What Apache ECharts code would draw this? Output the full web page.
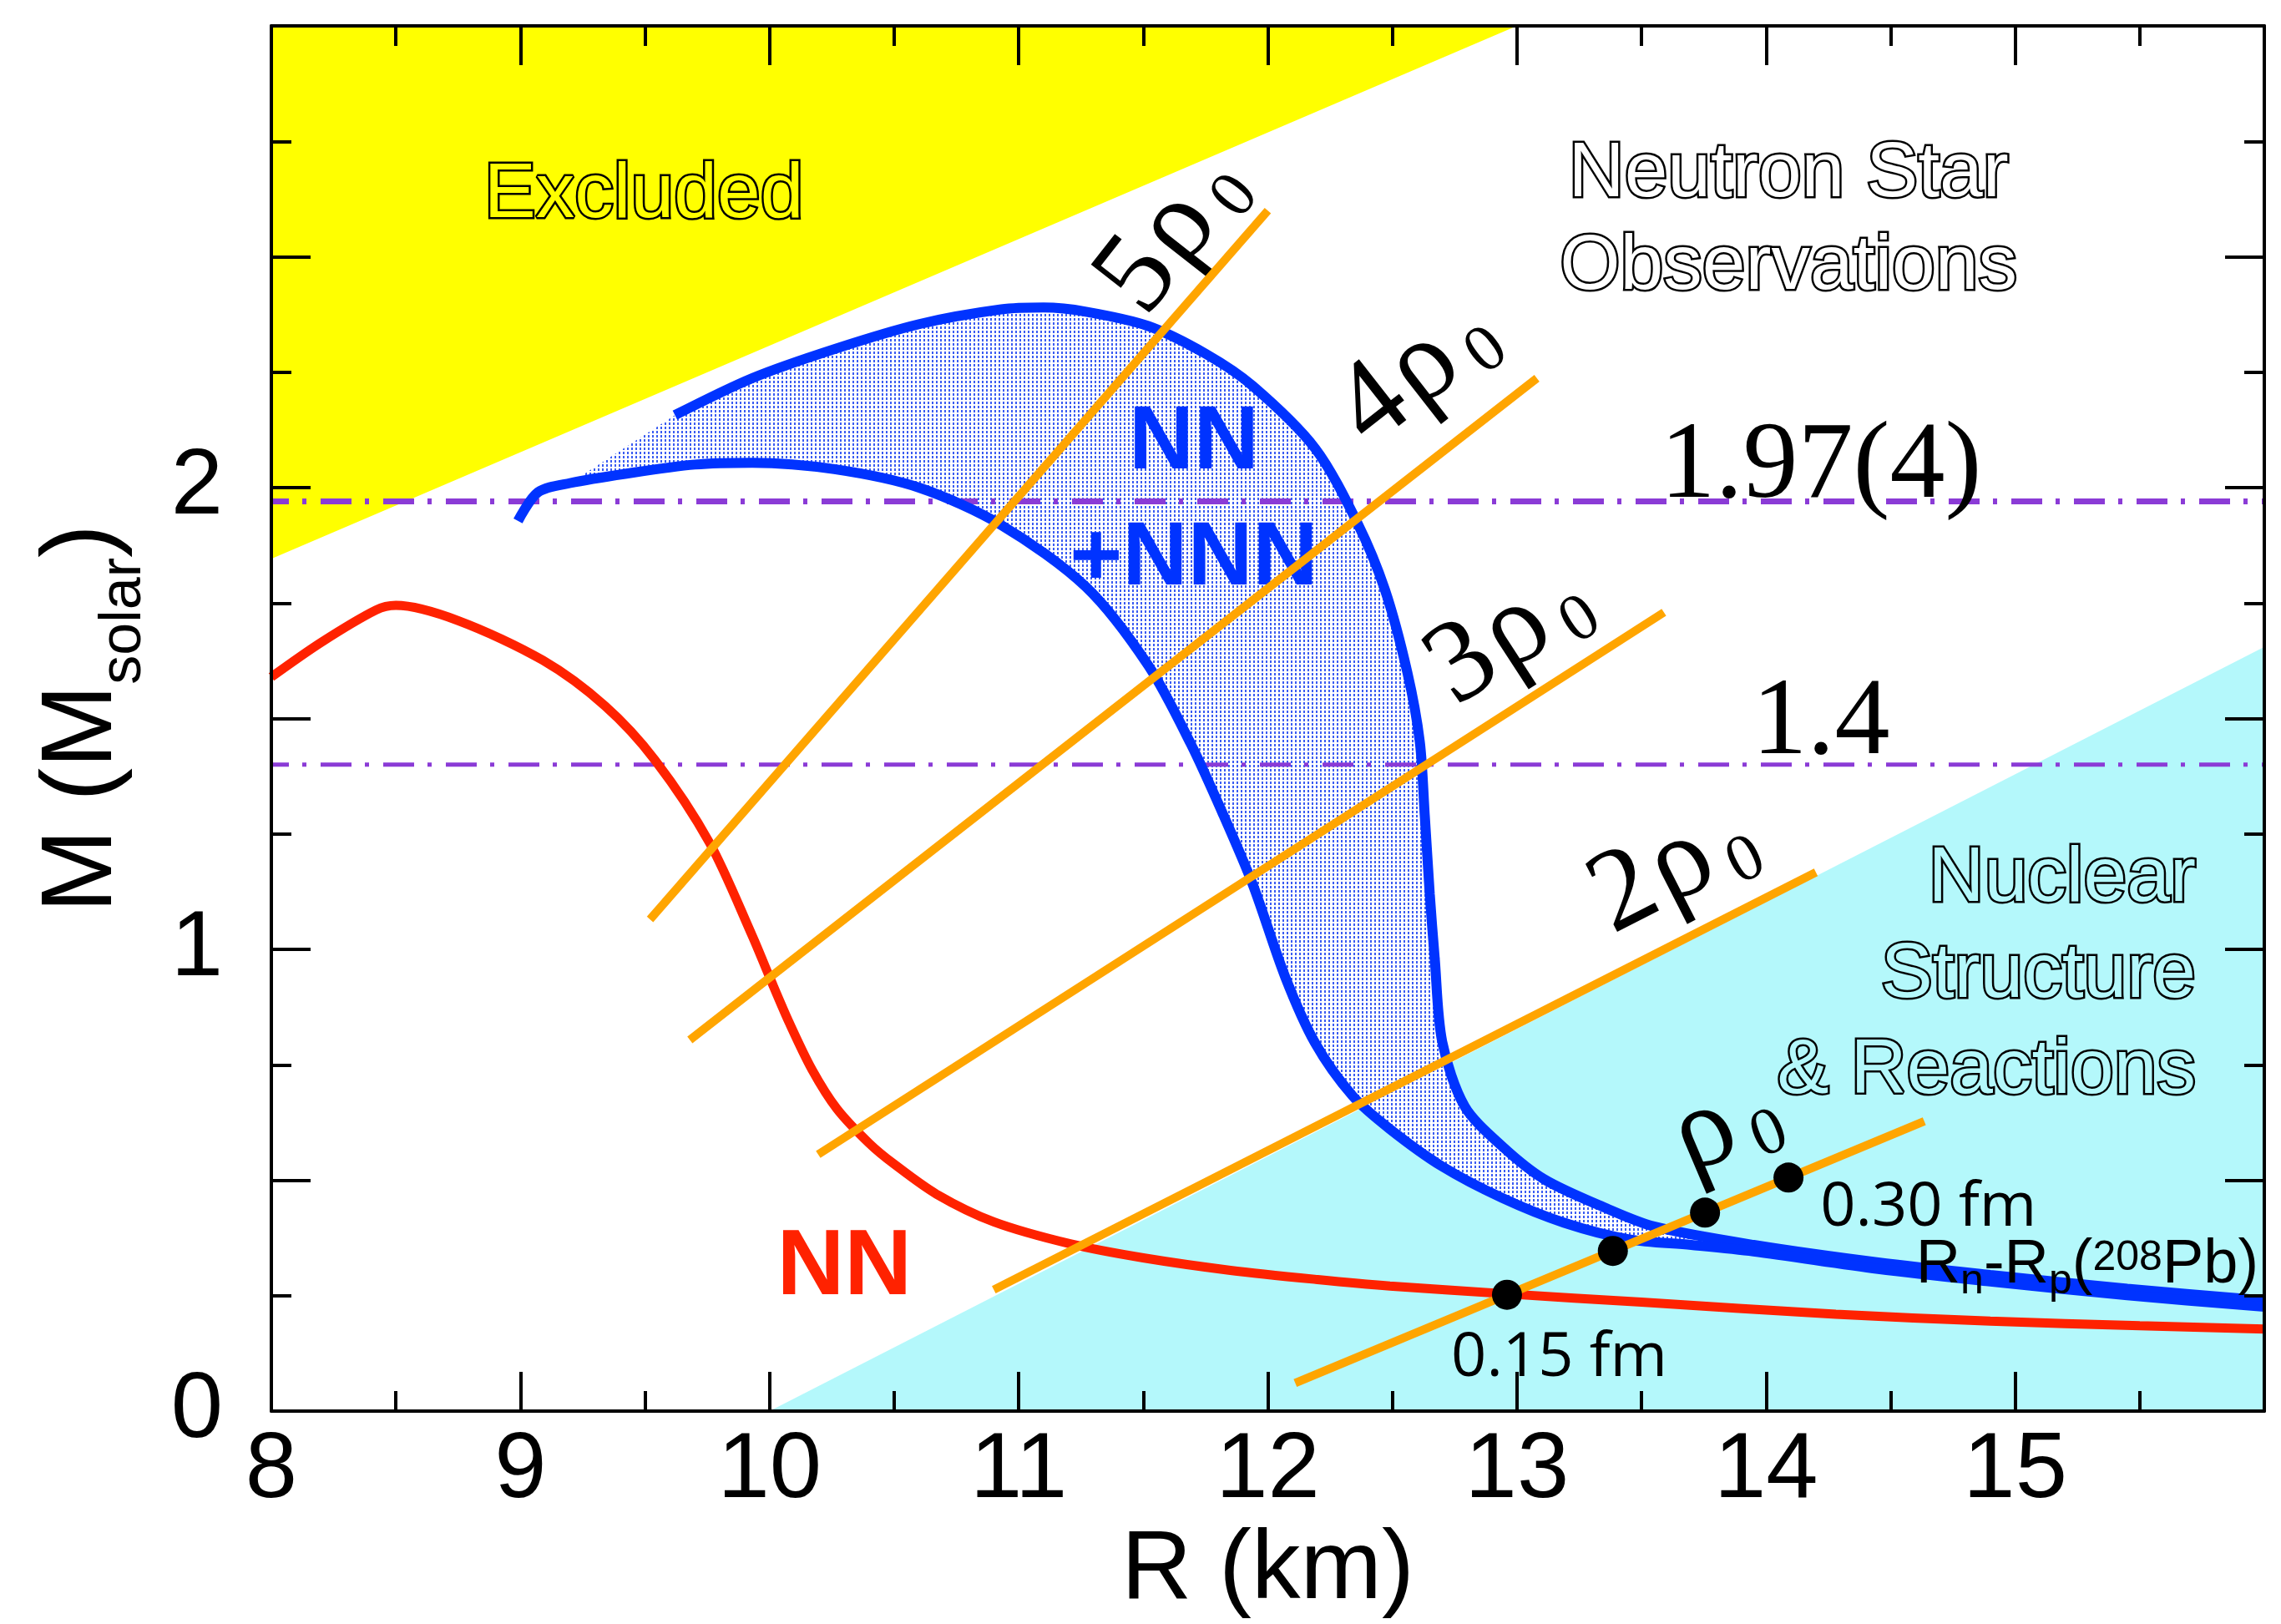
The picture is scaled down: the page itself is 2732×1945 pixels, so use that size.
<!DOCTYPE html>
<html>
<head>
<meta charset="utf-8">
<script src="https://cdn.jsdelivr.net/npm/echarts@6/dist/echarts.min.js"></script>
<style>
  html, body { margin: 0; padding: 0; background: #ffffff; }
  #chart { width: 2732px; height: 1945px; }
</style>
</head>
<body>
<div id="chart"></div>
<script>
// Neutron-star mass-radius relation: NN vs NN+NNN equations of state

// Causality-excluded wedge (M above R / 4.33)
const excludedR = [8, 13, 8];
const excludedM = [1.846, 3, 3];

// Region probed by nuclear structure & reactions
const nuclearR = [10, 16, 16];
const nuclearM = [0, 1.655, 0];

// NN-only mass-radius curve
const nnR = [8.00, 8.20, 8.42, 8.50, 8.75, 9.09, 9.34, 9.54, 9.76, 9.93, 10.00, 10.08, 10.17, 10.27, 10.40,
             10.50, 10.67, 10.90, 11.21, 11.50, 11.85, 12.20, 12.49, 12.96, 13.50, 14.28, 14.90, 15.50, 16.00];
const nnM = [1.590, 1.665, 1.735, 1.745, 1.712, 1.626, 1.527, 1.410, 1.230, 1.030, 0.940, 0.840, 0.740, 0.655, 0.580,
             0.535, 0.470, 0.410, 0.362, 0.332, 0.305, 0.285, 0.271, 0.254, 0.236, 0.210, 0.195, 0.185, 0.178];

// NN+NNN band: outer (stiff) edge
const bandOuterR = [9.62, 9.93, 10.26, 10.60, 10.93, 11.10, 11.27, 11.52, 11.75, 11.94, 12.19, 12.36, 12.47, 12.56, 12.61,
                    12.63, 12.65, 12.67, 12.70, 12.79, 12.94, 13.11, 13.36, 13.55, 13.95, 14.45, 14.90, 15.45, 16.00];
const bandOuterM = [2.157, 2.237, 2.300, 2.354, 2.386, 2.390, 2.381, 2.350, 2.290, 2.220, 2.085, 1.923, 1.779, 1.600, 1.450,
                    1.290, 1.120, 0.980, 0.800, 0.660, 0.574, 0.502, 0.439, 0.400, 0.360, 0.322, 0.295, 0.265, 0.240];

// NN+NNN band: inner (soft) edge
const bandInnerR = [8.99, 9.07, 9.20, 9.42, 9.70, 9.93, 10.26, 10.60, 10.93, 11.27, 11.52, 11.69, 11.82, 11.94,
                    12.07, 12.19, 12.34, 12.49, 12.70, 12.94, 13.19, 13.45, 13.70, 13.95, 14.45, 14.90, 15.45, 16.00];
const bandInnerM = [1.928, 1.990, 2.010, 2.030, 2.050, 2.054, 2.040, 2.000, 1.919, 1.785, 1.615, 1.446, 1.293, 1.140,
                    0.940, 0.797, 0.683, 0.611, 0.530, 0.462, 0.408, 0.372, 0.360, 0.346, 0.308, 0.281, 0.251, 0.226];

// Observed masses (solar units)
const massLevels = [1.97, 1.4];
const massLabels = ['1.97(4)', '1.4'];

// Constant central-density lines, in units of rho0
const densityLabels = ['5', '4', '3', '2', ''];
const densityR1 = [9.52, 9.68, 10.195, 10.90, 12.11];
const densityM1 = [1.065, 0.804, 0.556, 0.263, 0.061];
const densityR2 = [12.00, 13.08, 13.59, 14.20, 14.635];
const densityM2 = [2.600, 2.237, 1.730, 1.167, 0.628];

// Rn-Rp(208Pb) markers on the rho0 line, 0.15 fm ... 0.30 fm
const skinR = [12.96, 13.385, 13.755, 14.09];
const skinM = [0.252, 0.347, 0.430, 0.506];

// Axis ticks
const xMin = 8, xMax = 16, xStep = 1;
const yMin = 0, yMax = 3, yStep = 0.5;

const pairs = (rs, ms) => rs.map((r, i) => [r, ms[i]]);

// Dotted fill for the NN+NNN band
const dotTile = document.createElement('canvas');
dotTile.width = 5; dotTile.height = 5;
(function () {
  const g = dotTile.getContext('2d');
  g.fillStyle = '#ffffff'; g.fillRect(0, 0, 5, 5);
  g.fillStyle = '#3a5cf2'; g.fillRect(1, 1, 2, 3);
})();

function polygonSeries(name, pts, fill, z) {
  return {
    type: 'custom', name: name, z: z, silent: true,
    coordinateSystem: 'cartesian2d',
    data: [pts[0]],
    renderItem: function (params, api) {
      return {
        type: 'polygon',
        shape: { points: pts.map(p => api.coord(p)) },
        style: { fill: fill, stroke: null }
      };
    }
  };
}

const BLUE = '#0033ff', RED = '#ff2200', ORANGE = '#ffa500', PURPLE = '#8b3bd6';
const SANS = 'Liberation Sans', SERIF = 'Liberation Serif';

const series = [];
series.push(polygonSeries('Excluded', pairs(excludedR, excludedM), '#ffff00', 1));
series.push(polygonSeries('Nuclear', pairs(nuclearR, nuclearM), '#b4f8fb', 1));

const bandPolygon = pairs(bandOuterR, bandOuterM).concat(pairs(bandInnerR, bandInnerM).slice(2).reverse());
series.push(polygonSeries('NN+NNN band', bandPolygon, { image: dotTile, repeat: 'repeat' }, 2));

massLevels.forEach((m, i) => {
  series.push({
    type: 'line', name: massLabels[i], z: 3, silent: true, symbol: 'none',
    data: [[xMin, m], [xMax, m]],
    lineStyle: { color: PURPLE, width: i === 0 ? 7 : 5, type: [37, 16, 5, 17], dashOffset: 16 }
  });
});

series.push({
  type: 'line', name: 'NN+NNN outer', z: 4, silent: true, symbol: 'none', smooth: 0.3,
  data: pairs(bandOuterR, bandOuterM), lineStyle: { color: BLUE, width: 12 }
});
series.push({
  type: 'line', name: 'NN+NNN inner', z: 4, silent: true, symbol: 'none', smooth: 0.3,
  data: pairs(bandInnerR, bandInnerM), lineStyle: { color: BLUE, width: 12 }
});
series.push({
  type: 'line', name: 'NN', z: 4, silent: true, symbol: 'none', smooth: 0.3,
  data: pairs(nnR, nnM), lineStyle: { color: RED, width: 11 }
});

densityLabels.forEach((lab, i) => {
  series.push({
    type: 'line', name: lab + 'rho0', z: 5, silent: true, symbol: 'none',
    data: [[densityR1[i], densityM1[i]], [densityR2[i], densityM2[i]]],
    lineStyle: { color: ORANGE, width: 10, cap: 'butt' }
  });
});

series.push({
  type: 'scatter', name: 'Rn-Rp', z: 6, silent: true,
  symbol: 'circle', symbolSize: 36, itemStyle: { color: '#000000', opacity: 1 },
  data: pairs(skinR, skinM)
});

// Text annotations, anchored in data coordinates
const rhoRich = {
  n: { fontFamily: SERIF, fontSize: 140, lineHeight: 140, verticalAlign: 'top', color: '#000', padding: [0, 6, 0, 0] },
  r: { fontFamily: SERIF, fontSize: 140, lineHeight: 140, verticalAlign: 'top', color: '#000' },
  s: { fontFamily: SERIF, fontSize: 80, lineHeight: 80, verticalAlign: 'top', color: '#000', padding: [62, 0, 0, 16] }
};
const densityPos = [[11.62, 2.55, 52], [12.60, 2.25, 38], [12.97, 1.68, 33], [13.63, 1.175, 27], [13.84, 0.62, 23]];
const outline = (bg) => ({ color: bg, textBorderColor: '#000000', textBorderWidth: 5, fontFamily: SANS, fontSize: 93 });

const notes = [
  { value: [9.495, 2.632], label: Object.assign({ formatter: 'Excluded' }, outline('#ffff00')) },
  { value: [14.09, 2.578], label: Object.assign({ formatter: 'Neutron Star\nObservations', lineHeight: 111, align: 'center' }, outline('#ffffff')) },
  { value: [15.725, 0.944], label: Object.assign({ formatter: 'Nuclear\nStructure\n& Reactions', lineHeight: 115, align: 'right' }, outline('#b4f8fb')) },
  { value: [11.703, 1.97], label: { formatter: 'NN\n+NNN', color: BLUE, fontFamily: SANS, fontWeight: 'bold', fontSize: 108, lineHeight: 139, align: 'center' } },
  { value: [10.30, 0.31], label: { formatter: 'NN', color: RED, fontFamily: SANS, fontWeight: 'bold', fontSize: 112 } },
  { value: [14.22, 2.043], label: { formatter: massLabels[0], color: '#000', fontFamily: SERIF, fontSize: 132 } },
  { value: [14.22, 1.487], label: { formatter: massLabels[1], color: '#000', fontFamily: SERIF, fontSize: 132 } },
  { value: [13.17, 0.115], label: { formatter: '0.15 fm', color: '#000', fontFamily: 'Open Sans', fontSize: 74 } },
  { value: [14.652, 0.44], label: { formatter: '0.30 fm', color: '#000', fontFamily: 'Open Sans', fontSize: 74 } },
  { value: [15.289, 0.305], label: {
      formatter: '{m|R}{b|n}{m|-R}{b|p}{m|(}{t|208}{m|Pb)}',
      rich: {
        m: { fontFamily: SANS, fontSize: 74, lineHeight: 86, verticalAlign: 'top', color: '#000' },
        b: { fontFamily: SANS, fontSize: 50, lineHeight: 50, padding: [32, 0, 0, 0], verticalAlign: 'top', color: '#000' },
        t: { fontFamily: SANS, fontSize: 50, lineHeight: 50, padding: [4, 0, 0, 0], verticalAlign: 'top', color: '#000' }
      } } }
];
densityLabels.forEach((lab, i) => {
  const p = densityPos[i];
  notes.push({
    value: [p[0], p[1]],
    label: { formatter: (lab ? '{n|' + lab + '}' : '') + '{r|ρ}{s|0}', rotate: p[2], rich: rhoRich }
  });
});
notes.forEach(n => { n.label.show = true; n.label.position = 'inside'; n.label.opacity = 1; });

series.push({
  type: 'scatter', name: 'notes', z: 4, silent: true,
  symbolSize: 1, itemStyle: { color: 'rgba(0,0,0,0)', opacity: 1 },
  data: notes
});

const tickStyle = { color: '#000', width: 4 };
const axisCommon = {
  type: 'value', z: 10,
  axisLine: { show: true, onZero: false, lineStyle: { color: '#000', width: 4 } },
  axisTick: { show: true, inside: true, length: 47, lineStyle: tickStyle },
  minorTick: { show: true, splitNumber: 2, length: 24, lineStyle: tickStyle },
  splitLine: { show: false },
  minorSplitLine: { show: false }
};

const option = {
  animation: false,
  backgroundColor: '#ffffff',
  grid: { left: 325, right: 20, top: 31, bottom: 246, containLabel: false },
  xAxis: [
    Object.assign({}, axisCommon, {
      position: 'bottom', min: xMin, max: xMax, interval: xStep,
      name: 'R (km)', nameLocation: 'middle', nameGap: 131,
      nameTextStyle: { fontFamily: SANS, fontSize: 117, color: '#000' },
      axisLabel: { fontFamily: SANS, fontSize: 112, color: '#000', margin: 16, showMaxLabel: false }
    }),
    Object.assign({}, axisCommon, {
      position: 'top', min: xMin, max: xMax, interval: xStep,
      axisLabel: { show: false }
    })
  ],
  yAxis: [
    Object.assign({}, axisCommon, {
      position: 'left', min: yMin, max: yMax, interval: yStep,
      name: '{a|M (M}{b|solar}{a|)}', nameLocation: 'middle', nameGap: 165, nameRotate: 90,
      nameTextStyle: {
        rich: {
          a: { fontFamily: SANS, fontSize: 120, lineHeight: 120, verticalAlign: 'top', color: '#000' },
          b: { fontFamily: SANS, fontSize: 70, lineHeight: 72, padding: [74, 0, 0, 0], verticalAlign: 'top', color: '#000' }
        }
      },
      axisLabel: {
        fontFamily: SANS, fontSize: 112, color: '#000', margin: 58, showMaxLabel: false,
        formatter: v => (Math.abs(v - Math.round(v)) < 1e-9 ? String(Math.round(v)) : '')
      }
    }),
    Object.assign({}, axisCommon, {
      position: 'right', min: yMin, max: yMax, interval: yStep,
      axisLabel: { show: false }
    })
  ],
  series: series
};

const chart = echarts.init(document.getElementById('chart'));
chart.setOption(option);
</script>
</body>
</html>
